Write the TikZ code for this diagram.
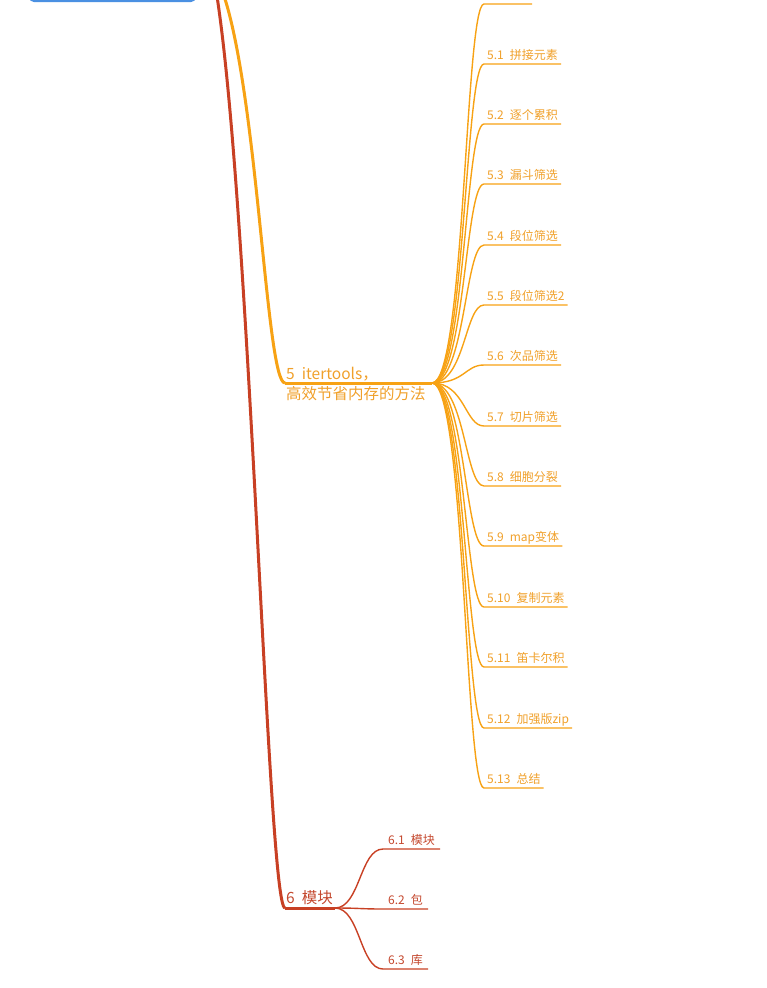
\documentclass[tikz,border=0pt]{standalone}
\usepackage{fontspec}
\setmainfont{Noto Sans CJK SC}
\definecolor{BrOrange}{RGB}{247,162,20}
\definecolor{TxOrange}{RGB}{240,160,42}
\definecolor{BrRed}{RGB}{200,64,36}
\definecolor{TxRed}{RGB}{196,72,46}
\definecolor{RootBlue}{RGB}{74,144,226}

\begin{document}
\begin{tikzpicture}[x=1pt,y=-1pt,
  trunk/.style={line width=3pt},
  twig/.style={line width=1.4pt},
  leaf/.style={anchor=south west,inner xsep=3pt,inner ysep=2.5pt,
               text height=9pt,text depth=1.5pt,
               font=\fontsize{12}{14}\selectfont},
  topic/.style={anchor=base west,inner sep=0pt,align=left,
                font=\fontsize{15.5}{19.5}\selectfont},
]
\useasboundingbox (0,0) rectangle (767,988);
\clip (0,0) rectangle (767,988);
% root box, only its lower edge shows
\node[draw=RootBlue,line width=2pt,rounded corners=4pt,fill=white,
      minimum width=165pt,minimum height=40pt] (root) at (112.5,-19) {};
\coordinate (s5) at (222,-10);
\coordinate (s6) at (216,-10);
% topic 5 --- itertools
\node[topic,text=TxOrange] (t5) at (286,399)
  {5\hspace{7pt}itertools，\\高效节省内存的方法};
\coordinate (b5l) at (285,383);
\coordinate (b5r) at (432,383);
\draw[trunk,BrOrange] (s5) .. controls (258,90) and (266,383) .. (b5l);
\draw[trunk,BrOrange] (b5l) -- (b5r);
% topic 6 --- modules
\node[topic,text=TxRed] (t6) at (286,903) {6\hspace{7pt}模块};
\coordinate (b6l) at (285,908);
\coordinate (b6r) at (335,908);
\draw[trunk,BrRed] (s6) .. controls (250,200) and (268,908) .. (b6l);
\draw[trunk,BrRed] (b6l) -- (b6r);
% children of 5
\coordinate (c0a) at (484,4);
\coordinate (c0b) at (532,4);
\draw[twig,BrOrange] (b5r) .. controls (465,383) and (465,4) .. (c0a) -- (c0b);
\foreach \n/\y/\lbl in {1/64/拼接元素,2/124/逐个累积,3/184/漏斗筛选,
    4/245/段位筛选,5/305/段位筛选2,6/365/次品筛选,7/426/切片筛选,
    8/486/细胞分裂,9/546/map变体,10/607/复制元素,11/667/笛卡尔积,
    12/728/加强版zip,13/788/总结}{
  \node[leaf,text=TxOrange] (c\n) at (484,\y) {5.\n\hspace{6pt}\lbl};
  \draw[twig,BrOrange] (b5r) .. controls (465,383) and (465,\y) .. (c\n.south west)
    -- (c\n.south east);
}
% children of 6
\foreach \n/\y/\lbl in {1/849/模块,2/909/包,3/969/库}{
  \node[leaf,text=TxRed,inner xsep=5pt] (d\n) at (383,\y) {6.\n\hspace{6pt}\lbl};
  \draw[twig,BrRed] (b6r) .. controls (360,908) and (360,\y) .. (d\n.south west)
    -- (d\n.south east);
}
\end{tikzpicture}
\end{document}
